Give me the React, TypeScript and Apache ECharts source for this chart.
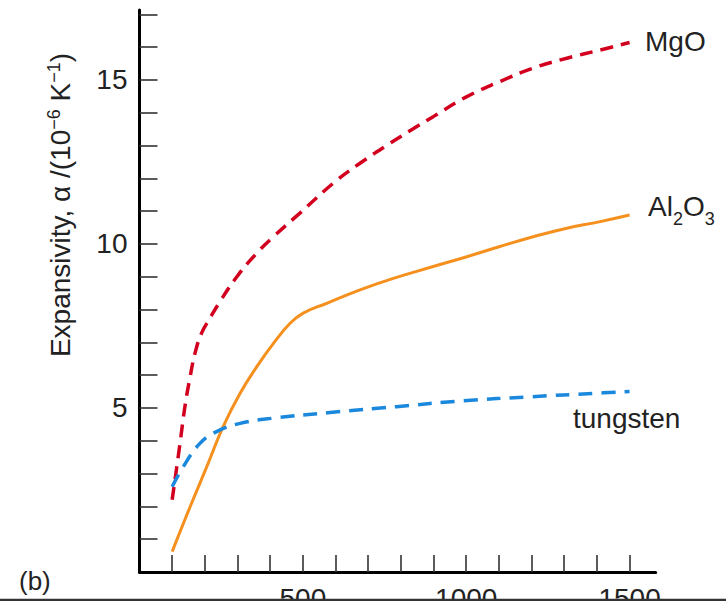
import React, { useEffect, useRef } from "react";
import * as echarts from "echarts";

// Temperature (K) and expansivity (10^-6 K^-1)
const mgoT = [100, 124, 139, 155, 170, 190, 216, 246, 298, 359, 410, 491, 593, 675, 767, 828, 899, 1002, 1103, 1205, 1308, 1410, 1500];
const mgoAlpha = [2.2, 3.92, 5.04, 5.95, 6.67, 7.28, 7.74, 8.24, 9.0, 9.72, 10.22, 10.94, 11.85, 12.46, 13.07, 13.45, 13.88, 14.49, 14.95, 15.36, 15.66, 15.91, 16.14];

const al2o3T = [100, 155, 206, 256, 308, 359, 410, 461, 501, 573, 675, 777, 899, 1002, 1103, 1205, 1308, 1410, 1500];
const al2o3Alpha = [0.62, 1.99, 3.21, 4.43, 5.45, 6.26, 6.97, 7.58, 7.89, 8.19, 8.6, 8.95, 9.31, 9.61, 9.92, 10.22, 10.48, 10.68, 10.88];

const tungstenT = [100, 134, 185, 236, 308, 410, 583, 787, 991, 1195, 1399, 1500];
const tungstenAlpha = [2.6, 3.21, 3.92, 4.28, 4.53, 4.69, 4.86, 5.04, 5.22, 5.34, 5.45, 5.5];

const xTickValues = [100, 200, 300, 400, 500, 600, 700, 800, 900, 1000, 1100, 1200, 1300, 1400, 1500];
const xLabelValues = [500, 1000, 1500];
const yTickValues = [1, 2, 3, 4, 5, 6, 7, 8, 9, 10, 11, 12, 13, 14, 15, 16, 17];
const yLabelValues = [5, 10, 15];

const FONT = "'Liberation Sans', Arial, Helvetica, sans-serif";

const pairs = (xs: number[], ys: number[]) => xs.map((x, i) => [x, ys[i]]);

export default function App() {
  const ref = useRef<HTMLDivElement>(null);
  useEffect(() => {
    const chart = echarts.init(ref.current!, null, { renderer: "svg" });
    chart.setOption({
      animation: false,
      backgroundColor: "#ffffff",
      grid: {
        left: 139.5,
        right: 70.3,
        top: 10,
        bottom: 29,
        containLabel: false,
        outerBoundsMode: "none",
      },
      xAxis: {
        type: "value",
        min: 0,
        max: 1580,
        axisLine: { show: true, onZero: false, lineStyle: { color: "#000", width: 3 } },
        axisTick: {
          show: true,
          inside: true,
          length: 17,
          customValues: xTickValues,
          lineStyle: { color: "#333", width: 1.6 },
        },
        axisLabel: {
          customValues: xLabelValues,
          formatter: (v: number) => String(v),
          fontSize: 28,
          fontFamily: FONT,
          color: "#222",
          margin: 12,
        },
        splitLine: { show: false },
      },
      yAxis: {
        type: "value",
        min: 0,
        max: 17.13,
        axisLine: { show: true, onZero: false, lineStyle: { color: "#000", width: 3 } },
        axisTick: {
          show: true,
          inside: true,
          length: 18,
          customValues: yTickValues,
          lineStyle: { color: "#333", width: 1.6 },
        },
        axisLabel: {
          customValues: yLabelValues,
          formatter: (v: number) => String(v),
          fontSize: 28,
          fontFamily: FONT,
          color: "#222",
          margin: 12,
          padding: [7, 0, 0, 0],
        },
        splitLine: { show: false },
      },
      series: [
        {
          name: "MgO",
          type: "line",
          data: pairs(mgoT, mgoAlpha),
          showSymbol: false,
          smooth: 0.45,
          silent: true,
          lineStyle: { color: "#d2001e", width: 3.5, type: [13, 8] },
        },
        {
          name: "Al2O3",
          type: "line",
          data: pairs(al2o3T, al2o3Alpha),
          showSymbol: false,
          smooth: 0.45,
          silent: true,
          lineStyle: { color: "#f5901e", width: 3 },
        },
        {
          name: "tungsten",
          type: "line",
          data: pairs(tungstenT, tungstenAlpha),
          showSymbol: false,
          smooth: 0.45,
          silent: true,
          lineStyle: { color: "#1a88dc", width: 3.5, type: [14, 9] },
        },
      ],
      graphic: [
        {
          type: "text",
          x: 60,
          y: 205,
          rotation: Math.PI / 2,
          style: {
            text: "Expansivity, α /(10{sup|−6} K{sup|−1})",
            font: `28px ${FONT}`,
            fill: "#222",
            align: "center",
            verticalAlign: "middle",
            rich: {
              sup: { fontSize: 18, fontFamily: FONT, fill: "#222", padding: [0, 0, 12, 0] },
            },
          },
        },
        {
          type: "text",
          x: 645,
          y: 41.5,
          style: { text: "MgO", font: `28px ${FONT}`, fill: "#222", align: "left", verticalAlign: "middle" },
        },
        {
          type: "text",
          x: 648,
          y: 206.5,
          style: {
            text: "Al{sub|2}O{sub|3}",
            font: `28px ${FONT}`,
            fill: "#222",
            align: "left",
            verticalAlign: "middle",
            rich: {
              sub: { fontSize: 18, fontFamily: FONT, fill: "#222", padding: [24, 0, 0, 0] },
            },
          },
        },
        {
          type: "text",
          x: 573,
          y: 418.6,
          style: { text: "tungsten", font: `28px ${FONT}`, fill: "#222", align: "left", verticalAlign: "middle" },
        },
        {
          type: "text",
          x: 19,
          y: 581,
          style: { text: "(b)", font: `26px ${FONT}`, fill: "#222", align: "left", verticalAlign: "middle" },
        },
        {
          type: "line",
          z: 100,
          shape: { x1: 0, y1: 600, x2: 726, y2: 600 },
          style: { stroke: "#333", lineWidth: 2.5 },
        },
      ],
    });
    return () => chart.dispose();
  }, []);
  return (
    <div
      ref={ref}
      style={{ position: "fixed", left: 0, top: 0, width: 726, height: 601, background: "#fff" }}
    />
  );
}
